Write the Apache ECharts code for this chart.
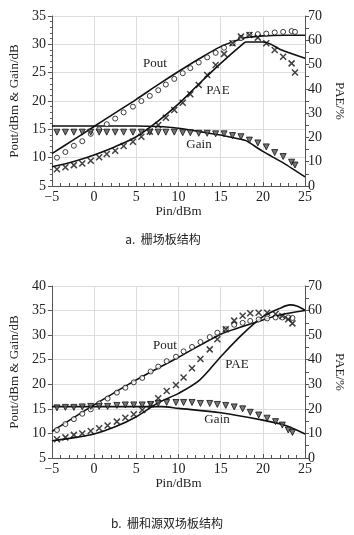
<!DOCTYPE html>
<html>
<head>
<meta charset="utf-8">
<script src="https://cdn.jsdelivr.net/npm/echarts@6/dist/echarts.min.js"></script>
<style>
  html, body { margin: 0; padding: 0; background: #fff; }
  #main { width: 354px; height: 535px; }
</style>
</head>
<body>
<div id="main"></div>
<script>
// chart a: gate field plate
var pinMarkA = [-4.4, -3.4, -2.4, -1.4, -0.4, 0.6, 1.5, 2.5, 3.5, 4.6, 5.6, 6.6, 7.6, 8.5, 9.5, 10.5, 11.4, 12.4, 13.4, 14.4, 15.4, 16.4, 17.4, 18.4, 19.4, 20.4, 21.4, 22.4, 23.4, 23.8];
var poutMarkA = [10.0, 11.0, 12.1, 12.9, 14.2, 15.0, 15.9, 16.9, 18.0, 19.0, 20.0, 20.9, 21.9, 22.9, 23.9, 24.9, 25.8, 26.8, 27.7, 28.5, 29.4, 30.2, 31.1, 31.7, 31.8, 31.9, 32.1, 32.2, 32.35, 32.2];
var paeMarkA = [6.9, 7.7, 8.6, 9.3, 10.4, 11.8, 13.2, 14.5, 16.5, 18.2, 20.3, 22.4, 25.1, 28.1, 31.3, 34.3, 37.8, 41.6, 45.7, 49.8, 54.4, 58.8, 61.5, 62.2, 61.1, 58.8, 56.0, 53.2, 50.5, 46.7];
var gainMarkA = [14.5, 14.5, 14.5, 14.5, 14.5, 14.5, 14.5, 14.5, 14.5, 14.5, 14.5, 14.5, 14.5, 14.5, 14.5, 14.4, 14.4, 14.3, 14.3, 14.2, 14.2, 13.9, 13.7, 13.1, 12.6, 11.9, 10.9, 10.2, 9.2, 8.7];

var poutLinePinA = [-5, -2.5, 0, 2.5, 5, 7.5, 10, 12.5, 15, 17.5, 18, 20, 22.5, 25];
var poutLineA = [10.7, 13.1, 15.5, 17.9, 20.3, 22.8, 25.2, 27.5, 29.6, 31.0, 31.2, 31.5, 31.6, 31.6];
var paeLinePinA = [-5, -2.5, 0, 2.5, 5, 7.5, 10, 12.5, 15, 17.5, 18, 20, 21, 22, 25];
var paeLineA = [7.9, 10.0, 12.8, 16.2, 20.3, 26.5, 33.8, 42.3, 50.5, 58.1, 59.3, 59.3, 58.3, 56.3, 52.6];
var gainLinePinA = [-5, 5, 7.5, 10, 12.5, 15, 17.5, 18, 20, 22.5, 25];
var gainLineA = [15.6, 15.6, 15.5, 15.2, 14.6, 14.0, 13.2, 13.0, 11.1, 9.0, 6.6];

// chart b: gate + source field plates
var pinMarkB = [-4.4, -3.4, -2.4, -1.4, -0.4, 0.6, 1.6, 2.7, 3.7, 4.7, 5.7, 6.7, 7.6, 8.6, 9.7, 10.6, 11.6, 12.6, 13.7, 14.6, 15.6, 16.6, 17.6, 18.5, 19.5, 20.5, 21.5, 22.3, 23.0, 23.5];
var poutMarkB = [10.7, 11.9, 12.9, 14.0, 14.9, 16.1, 17.1, 18.3, 19.3, 20.4, 21.3, 22.6, 23.6, 24.7, 25.6, 26.7, 27.6, 28.6, 29.6, 30.5, 31.2, 32.1, 32.5, 32.9, 33.2, 33.4, 33.6, 33.6, 33.6, 33.5];
var paeMarkB = [7.6, 8.4, 9.4, 10.0, 11.0, 12.1, 13.2, 14.8, 16.4, 17.8, 19.5, 21.8, 24.3, 27.3, 29.7, 32.8, 36.5, 40.3, 44.2, 48.3, 52.4, 55.9, 57.9, 58.9, 59.1, 59.1, 58.6, 57.8, 56.5, 54.8];
var gainMarkB = [15.2, 15.3, 15.3, 15.4, 15.5, 15.5, 15.5, 15.7, 15.8, 15.8, 15.8, 15.9, 16.1, 16.3, 16.3, 16.3, 16.3, 16.1, 16.1, 15.9, 15.7, 15.4, 15.0, 14.3, 13.75, 13.1, 12.4, 11.7, 10.7, 10.2];

var poutLinePinB = [-5, 0, 5, 10, 15, 17.5, 20, 22, 25];
var poutLineB = [10.4, 15.8, 20.9, 25.5, 30.2, 31.7, 33.1, 34.1, 35.0];
var paeLinePinB = [-5, -2.5, 0, 2.5, 5, 7.5, 10, 12.5, 15, 17.5, 20, 22, 23.2, 24, 25];
var paeLineB = [7.0, 8.2, 9.8, 12.7, 16.8, 22.3, 26.3, 31.7, 41.2, 50.1, 57.5, 60.9, 62.3, 61.9, 60.2];
var gainLinePinB = [-5, 5, 8, 10, 15, 20, 22.5, 25];
var gainLineB = [15.45, 15.45, 15.45, 15.1, 14.2, 12.7, 11.7, 9.9];

var FONT = '"Liberation Serif", "DejaVu Serif", serif';
var CJK = '"Noto Sans CJK SC", sans-serif';
var CROSS = 'path://M0,0 L10,10 M10,0 L0,10';

function zip(xs, ys) {
    var out = [];
    for (var i = 0; i < xs.length; i++) out.push([xs[i], ys[i]]);
    return out;
}

function xAx(gi) {
    return {
        type: 'value', gridIndex: gi, min: -5, max: 25, interval: 5,
        name: 'Pin/dBm', nameLocation: 'middle', nameGap: 19,
        nameTextStyle: {fontFamily: FONT, fontSize: 13, color: '#222'},
        axisLine: {onZero: false, lineStyle: {color: '#555', width: 1}},
        axisTick: {inside: true, length: 4, lineStyle: {color: '#555'}},
        minorTick: {show: true, splitNumber: 5, length: 3, lineStyle: {color: '#555'}},
        axisLabel: {fontFamily: FONT, fontSize: 14, color: '#222', margin: 4,
            formatter: function (v) { return v < 0 ? '\u2212' + (-v) : v; }},
        splitLine: {show: true, lineStyle: {color: '#ddd', width: 1}}
    };
}

function yLeft(gi, min, max, minor, gap) {
    return {
        type: 'value', gridIndex: gi, min: min, max: max, interval: 5,
        name: 'Pout/dBm & Gain/dB', nameLocation: 'middle', nameGap: gap, nameRotate: 90,
        nameTextStyle: {fontFamily: FONT, fontSize: 13, color: '#222'},
        axisLine: {show: true, onZero: false, lineStyle: {color: '#555', width: 1}},
        axisTick: {show: true, length: 4, lineStyle: {color: '#555'}},
        minorTick: {show: minor, splitNumber: 5, length: 2, lineStyle: {color: '#555'}},
        axisLabel: {fontFamily: FONT, fontSize: 14, color: '#222', margin: 6},
        splitLine: {show: true, lineStyle: {color: '#ddd', width: 1}}
    };
}

function yRight(gi, gap) {
    return {
        type: 'value', gridIndex: gi, position: 'right', min: 0, max: 70, interval: 10,
        name: 'PAE/%', nameLocation: 'middle', nameGap: gap, nameRotate: -90,
        nameTextStyle: {fontFamily: FONT, fontSize: 13, color: '#222'},
        axisLine: {show: true, onZero: false, lineStyle: {color: '#555', width: 1}},
        axisTick: {show: true, length: 4, lineStyle: {color: '#555'}},
        minorTick: {show: true, splitNumber: 2, length: 4, lineStyle: {color: '#555'}},
        axisLabel: {fontFamily: FONT, fontSize: 14, color: '#222', margin: 3},
        splitLine: {show: false}
    };
}

function lineS(xi, yi, data, smooth) {
    return {
        type: 'line', xAxisIndex: xi, yAxisIndex: yi, data: data,
        showSymbol: false, smooth: smooth, silent: true,
        lineStyle: {color: '#111', width: 1.6}, z: 3
    };
}

function markS(xi, yi, data, kind) {
    var s = {type: 'scatter', xAxisIndex: xi, yAxisIndex: yi, data: data, silent: true, z: 4};
    if (kind == 'circle') {
        s.symbol = 'circle'; s.symbolSize = 5;
        s.itemStyle = {color: '#fff', borderColor: '#111', borderWidth: 1};
    } else if (kind == 'cross') {
        s.symbol = CROSS; s.symbolSize = 6;
        s.itemStyle = {color: 'none', borderColor: '#111', borderWidth: 1.5};
    } else {
        s.symbol = 'triangle'; s.symbolRotate = 180; s.symbolSize = 6;
        s.itemStyle = {color: '#555', borderColor: '#111', borderWidth: 1};
    }
    return s;
}

function txt(x, y, t, size, fam) {
    return {
        type: 'text', x: x, y: y,
        style: {text: t, fontFamily: fam || FONT, fontSize: size || 13, fill: '#222',
            textAlign: 'center', textVerticalAlign: 'middle'}
    };
}

var myChart = echarts.init(document.getElementById('main'));

var option = {
    backgroundColor: '#fff',
    animation: false,
    grid: [
        {left: 40, right: 46, top: 16, height: 170},
        {left: 45, right: 40, top: 286, height: 172}
    ],
    xAxis: [xAx(0), xAx(1)],
    yAxis: [yLeft(0, 5, 35, true, 26), yRight(0, 24), yLeft(1, 5, 40, false, 26), yRight(1, 20)],
    series: [
        lineS(0, 0, zip(poutLinePinA, poutLineA), 0.3),
        lineS(0, 1, zip(paeLinePinA, paeLineA), 0.3),
        lineS(0, 0, zip(gainLinePinA, gainLineA), 0.2),
        markS(0, 0, zip(pinMarkA, poutMarkA), 'circle'),
        markS(0, 1, zip(pinMarkA, paeMarkA), 'cross'),
        markS(0, 0, zip(pinMarkA, gainMarkA), 'tri'),

        lineS(1, 2, zip(poutLinePinB, poutLineB), 0.3),
        lineS(1, 3, zip(paeLinePinB, paeLineB), 0.3),
        lineS(1, 2, zip(gainLinePinB, gainLineB), 0.3),
        markS(1, 2, zip(pinMarkB, poutMarkB), 'circle'),
        markS(1, 3, zip(pinMarkB, paeMarkB), 'cross'),
        markS(1, 2, zip(pinMarkB, gainMarkB), 'tri')
    ],
    graphic: [
        txt(155, 64, 'Pout'),
        txt(218, 91, 'PAE'),
        txt(199, 145, 'Gain'),
        txt(163, 239, 'a.  栅场板结构', 12, CJK),
        txt(165, 346, 'Pout'),
        txt(237, 365, 'PAE'),
        txt(217, 420, 'Gain'),
        txt(167, 523, 'b.  栅和源双场板结构', 12, CJK)
    ]
};

myChart.setOption(option);
</script>
</body>
</html>
